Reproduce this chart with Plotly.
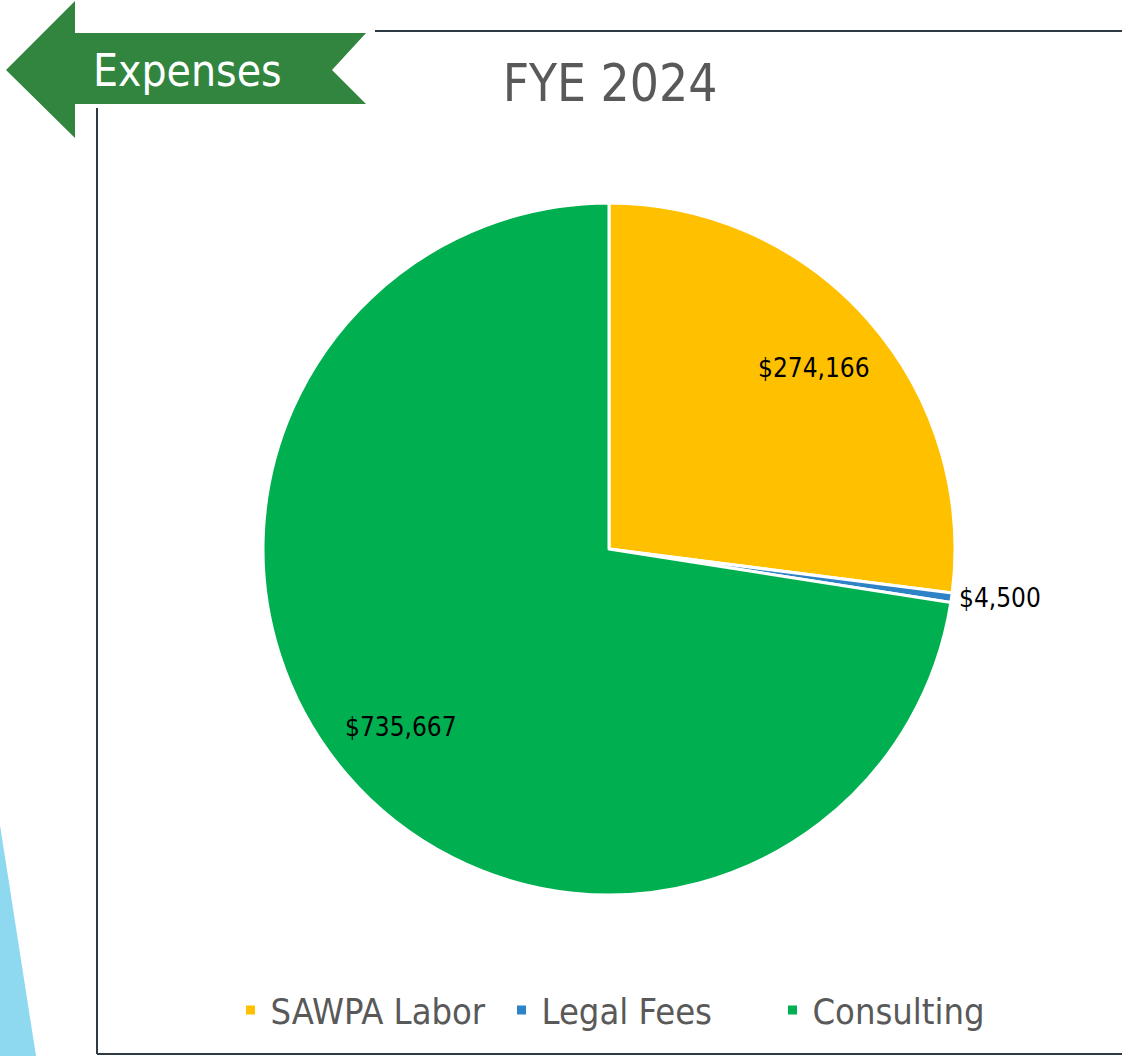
import math
import plotly.graph_objects as go

categories = ["SAWPA Labor", "Legal Fees", "Consulting"]
values = [274166, 4500, 735667]
colors = ["#FFC000", "#2E83C6", "#00B050"]
outside_label = [False, True, False]

W, H = 1122, 1056
FONT = "Liberation Sans Narrow, DejaVu Sans Condensed, Roboto, sans-serif"

def px(x):
    return x / W

def py(y):
    return 1 - y / H

# pie geometry (pixels)
CX, CY, R = 609, 549, 346

fig = go.Figure()
fig.add_trace(go.Pie(
    labels=categories,
    values=values,
    marker=dict(colors=colors, line=dict(color="white", width=3)),
    sort=False,
    direction="clockwise",
    rotation=0,
    texttemplate=["$%{value:,}" if o else "" for o in outside_label],
    textposition=["outside" if o else "none" for o in outside_label],
    textfont=dict(family=FONT, size=26, color="black"),
    domain=dict(x=[px(CX - R), px(CX + R)], y=[py(CY + R), py(CY - R)]),
    hoverinfo="label+value+percent",
))

# inside data labels, placed at each slice's mid-angle computed from the values
total = sum(values)
annotations = []
cum = 0
for v, o in zip(values, outside_label):
    mid = (cum + v / 2) / total * 2 * math.pi
    cum += v
    if o:
        continue
    r = 0.79 * R
    x = CX + r * math.sin(mid)
    y = CY - r * math.cos(mid)
    annotations.append(dict(text=f"${v:,}", x=px(x), y=py(y), xref="paper", yref="paper",
                            showarrow=False, xanchor="center", yanchor="middle",
                            font=dict(family=FONT, size=26, color="black")))

# decorative shapes: arrow, frame, light blue triangle
arrow = [(6, 70), (75, 1), (75, 33), (366, 33), (332, 70), (366, 104), (75, 104), (75, 138)]
path = "M " + " L ".join(f"{px(x)},{py(y)}" for x, y in arrow) + " Z"
tri = [(0, 825), (36, 1056), (0, 1056)]
tpath = "M " + " L ".join(f"{px(x)},{py(y)}" for x, y in tri) + " Z"
line_col = "#2E3B44"
shapes = [
    dict(type="path", xref="paper", yref="paper", path=tpath, fillcolor="#8FD9F0", line=dict(width=0)),
    dict(type="line", xref="paper", yref="paper", x0=px(375), y0=py(31), x1=px(1122), y1=py(31), line=dict(color=line_col, width=2)),
    dict(type="line", xref="paper", yref="paper", x0=px(97), y0=py(108), x1=px(97), y1=py(1054), line=dict(color=line_col, width=2)),
    dict(type="line", xref="paper", yref="paper", x0=px(97), y0=py(1054), x1=px(1122), y1=py(1054), line=dict(color=line_col, width=2)),
    dict(type="path", xref="paper", yref="paper", path=path, fillcolor="#31853F", line=dict(width=0)),
]

annotations.append(dict(text="Expenses", x=px(187), y=py(70), xref="paper", yref="paper", showarrow=False,
                        xanchor="center", yanchor="middle", font=dict(family=FONT, size=44, color="white")))

fig.update_layout(
    width=W, height=H,
    margin=dict(l=0, r=0, t=0, b=0),
    paper_bgcolor="white", plot_bgcolor="white",
    title=dict(text="FYE 2024", x=px(610), xanchor="center", y=py(83), yanchor="middle",
               font=dict(family=FONT, size=51, color="#595959")),
    legend=dict(orientation="h", x=px(637), xanchor="center", y=py(1010), yanchor="middle",
                font=dict(family=FONT, size=36, color="#595959"), itemwidth=30,
                entrywidth=226, entrywidthmode="pixels", traceorder="normal"),
    shapes=shapes,
    annotations=annotations,
)

fig.write_html("out.html", config={"displayModeBar": False},
               post_script="document.body.style.margin='0';document.body.style.overflow='hidden';")
